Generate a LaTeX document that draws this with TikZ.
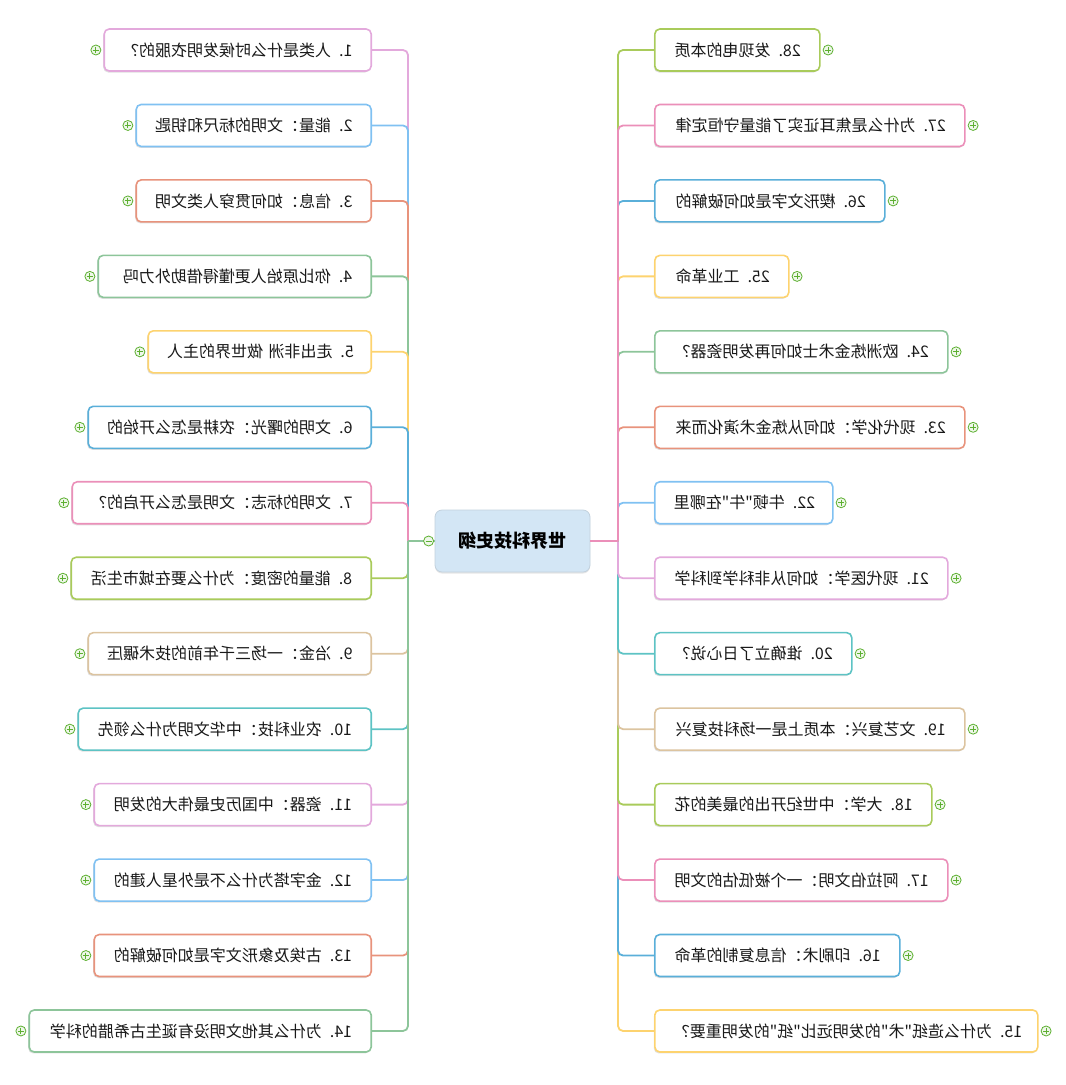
\documentclass[tikz,border=0pt]{standalone}
\usepackage{fontspec}
\setmainfont{Noto Sans CJK SC}[Ligatures=TeXOff]
\usepackage{graphicx}
\usetikzlibrary{shadows}

\definecolor{c1}{HTML}{E3A9DC}
\definecolor{c2}{HTML}{80C1F2}
\definecolor{c3}{HTML}{E8937C}
\definecolor{c4}{HTML}{8DC59A}
\definecolor{c5}{HTML}{FDD36F}
\definecolor{c6}{HTML}{5AAFD9}
\definecolor{c7}{HTML}{EB8FB9}
\definecolor{c8}{HTML}{A9CB5B}
\definecolor{c9}{HTML}{DCC4A0}
\definecolor{c0}{HTML}{5DC3C4}
\definecolor{rootfill}{HTML}{D3E6F5}
\definecolor{fgreen}{HTML}{5DB031}

\begin{document}
\begin{tikzpicture}[
        x=1pt, y=-1pt,
        topic/.style={draw, rounded corners=5pt, line width=1.6pt, fill=white,
            minimum height=42pt, inner xsep=19pt, align=right, text=black!90,
            font=\fontsize{16}{18}\selectfont,
            drop shadow={opacity=0.25, shadow xshift=-1pt, shadow yshift=-1.5pt}},
        rootbox/.style={draw=rootfill!80!gray, line width=0.8pt, fill=rootfill,
            rounded corners=7pt, minimum width=155pt, minimum height=62pt,
            font=\fontsize{18}{20}\selectfont\bfseries,
            drop shadow={opacity=0.2, shadow xshift=0pt, shadow yshift=-1.5pt}},
        branch/.style={line width=1.8pt, rounded corners=5pt},
        trunk/.style={line width=2.8pt},
        plus/.style={circle, draw=fgreen, fill=fgreen!10, line width=0.8pt,
            minimum size=10pt, inner sep=0pt,
            path picture={\draw[fgreen, line width=0.9pt]
                ([xshift=2pt]path picture bounding box.west) -- ([xshift=-2pt]path picture bounding box.east)
                ([yshift=-2pt]path picture bounding box.north) -- ([yshift=2pt]path picture bounding box.south);}},
        minus/.style={circle, draw=fgreen, fill=fgreen!10, line width=0.8pt,
            minimum size=10pt, inner sep=0pt,
            path picture={\draw[fgreen, line width=0.9pt]
                ([xshift=2pt]path picture bounding box.west) -- ([xshift=-2pt]path picture bounding box.east);}}]

        \useasboundingbox (0,0) rectangle (1066,1085);

        % --- root ---
        \node[rootbox] (root) at (512.5,541) {\reflectbox{世界科技史纲}};
        \coordinate (lj) at (408,541);
        \coordinate (rj) at (618,541);

        % --- left column: 1 to 14 ---
        \foreach \xl/\txt [count=\n] in {
                106/{1. 人类是什么时候发明衣服的？},
                138/{2. 能量：文明的标尺和钥匙},
                138/{3. 信息：如何贯穿人类文明},
                100/{4. 你比原始人更懂得借助外力吗},
                150/{5. 走出非洲 做世界的主人},
                90/{6. 文明的曙光：农耕是怎么开始的},
                74/{7. 文明的标志：文明是怎么开启的？},
                73/{8. 能量的密度：为什么要在城市生活},
                90/{9. 冶金：一场三千年前的技术碾压},
                80/{10. 农业科技：中华文明为什么领先},
                96/{11. 瓷器：中国历史最伟大的发明},
                96/{12. 金字塔为什么不是外星人建的},
                96/{13. 古埃及象形文字是如何破解的},
                31/{14. 为什么其他文明没有诞生古希腊的科学}} {
            \pgfmathtruncatemacro\m{mod(\n,10)}
            \pgfmathsetmacro\yy{50+(\n-1)*75.46}
            \pgfmathsetmacro\tw{373-\xl-38}
            \node[topic, draw=c\m, text width=\tw pt, anchor=east] (t\n) at (372,\yy) {\reflectbox{\txt}};
            \node[plus] (p\n) at ([xshift=-7.5pt]t\n.west) {};
        }

        % --- right column: 28 down to 15 ---
        \foreach \n/\xr/\txt in {
                28/818/{28. 发现电的本质},
                27/963/{27. 为什么是焦耳证实了能量守恒定律},
                26/883/{26. 楔形文字是如何破解的},
                25/787/{25. 工业革命},
                24/946/{24. 欧洲炼金术士如何再发明瓷器？},
                23/963/{23. 现代化学：如何从炼金术演化而来},
                22/831/{22. 牛顿"牛"在哪里},
                21/946/{21. 现代医学：如何从非科学到科学},
                20/850/{20. 谁确立了日心说？},
                19/963/{19. 文艺复兴：本质上是一场科技复兴},
                18/930/{18. 大学：中世纪开出的最美的花},
                17/946/{17. 阿拉伯文明：一个被低估的文明},
                16/898/{16. 印刷术：信息复制的革命},
                15/1036/{15. 为什么造纸"术"的发明远比"纸"的发明重要？}} {
            \pgfmathtruncatemacro\m{mod(\n,10)}
            \pgfmathsetmacro\yy{50+(28-\n)*75.46}
            \pgfmathsetmacro\tw{\xr-653-38}
            \node[topic, draw=c\m, text width=\tw pt, anchor=west] (t\n) at (654,\yy) {\reflectbox{\txt}};
            \node[plus] (p\n) at ([xshift=7.5pt]t\n.east) {};
        }

        % --- connectors ---
        \foreach \n in {1,...,14} {
            \pgfmathtruncatemacro\m{mod(\n,10)}
            \draw[branch, c\m] (lj) |- (t\n.east);
        }
        \foreach \n in {15,...,21,28,26,25,24,23,22,27} {
            \pgfmathtruncatemacro\m{mod(\n,10)}
            \draw[branch, c\m] (rj) |- (t\n.west);
        }
        \draw[trunk, c4] (root.west) -- (lj);
        \draw[trunk, c7] (root.east) -- (rj);
        \node[minus] (fold) at ([xshift=-6pt]root.west) {};

    \end{tikzpicture}
\end{document}
